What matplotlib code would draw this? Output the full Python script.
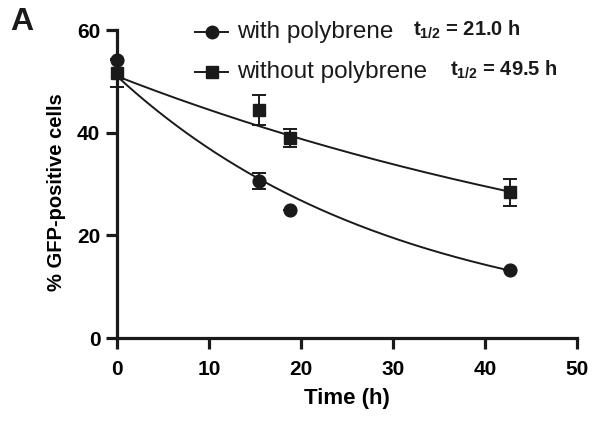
import numpy as np
import matplotlib
matplotlib.use("Agg")
import matplotlib.pyplot as plt
from matplotlib.lines import Line2D

plt.rcParams['font.family'] = ['Liberation Sans', 'DejaVu Sans']
plt.rcParams['mathtext.fontset'] = 'custom'
plt.rcParams['mathtext.bf'] = 'Liberation Sans:bold'
plt.rcParams['mathtext.rm'] = 'Liberation Sans:bold'

# Data
time_with = [0, 15.4, 18.8, 42.7]
gfp_with = [54.2, 30.6, 24.9, 13.2]
err_with = [0.0, 1.6, 0.0, 0.0]

time_without = [0, 15.4, 18.8, 42.7]
gfp_without = [51.6, 44.4, 39.0, 28.4]
err_without = [2.8, 2.9, 1.75, 2.6]

# One-phase decay fit parameters (half-lives from legend)
fit_y0 = [51.0, 51.0]
fit_plateau = [0.9, 1.0]
half_lives = [21.0, 49.5]
labels = ["with polybrene", "without polybrene"]
markers = ["o", "s"]

W, H = 595, 421
fig = plt.figure(figsize=(5.95, 4.21), dpi=100)
ax = fig.add_axes([117 / W, 1 - 338 / H, (577 - 117) / W, (338 - 30) / H])

tt = np.linspace(0, 42.7, 200)
for y0, p, th in zip(fit_y0, fit_plateau, half_lives):
    k = np.log(2) / th
    ax.plot(tt, (y0 - p) * np.exp(-k * tt) + p, color='#1a1a1a', lw=1.4, zorder=2)

ax.errorbar(time_with, gfp_with, yerr=err_with, fmt='o', color='#1a1a1a', ms=9.2,
            capsize=5, elinewidth=1.4, capthick=1.4, zorder=3, clip_on=False)
ax.errorbar(time_without, gfp_without, yerr=err_without, fmt='s', color='#1a1a1a', ms=9.0,
            capsize=5, elinewidth=1.4, capthick=1.4, zorder=3, clip_on=False)

ax.set_xlim(0, 50)
ax.set_ylim(0, 60)
ax.set_xticks([0, 10, 20, 30, 40, 50])
ax.set_yticks([0, 20, 40, 60])
for s in ['top', 'right']:
    ax.spines[s].set_visible(False)
for s in ['left', 'bottom']:
    ax.spines[s].set_linewidth(2.3)
    ax.spines[s].set_color('#1a1a1a')
ax.tick_params(width=2.3, length=8, labelsize=15, pad=4, color='#1a1a1a')
ax.tick_params(axis='x', pad=8)
for lab in ax.get_xticklabels() + ax.get_yticklabels():
    lab.set_fontweight('bold')
ax.set_xlabel("Time (h)", fontsize=16, fontweight='bold', labelpad=6)
ax.set_ylabel("% GFP-positive cells", fontsize=14.5, fontweight='bold')
ax.yaxis.set_label_coords(-0.11, 0.474)

# Legend drawn in figure pixel coordinates
marker_y = [32, 72]
text_base = [38, 78]
t_x = [413, 450]
t_base = [36, 76]
for m, lab, my, tb, tx, tby, th in zip(markers, labels, marker_y, text_base, t_x, t_base, half_lives):
    fig.add_artist(Line2D([195 / W, 228 / W], [1 - my / H, 1 - my / H], color='#1a1a1a', lw=1.4))
    fig.add_artist(Line2D([212 / W], [1 - my / H], marker=m, ms=9, color='#1a1a1a'))
    fig.text(237 / W, 1 - tb / H, lab, fontsize=17.5, va='baseline', ha='left', color='#1a1a1a')
    fig.text(tx / W, 1 - tby / H, r"$\mathbf{t_{1/2}}$ = %.1f h" % th,
             fontsize=14.5, fontweight='bold', va='baseline', ha='left', color='#1a1a1a')

fig.text(22 / W, 1 - 22 / H, "A", fontsize=23, fontweight='bold', va='center', ha='center',
         color='#1a1a1a')

fig.savefig("out.png", dpi=100)
